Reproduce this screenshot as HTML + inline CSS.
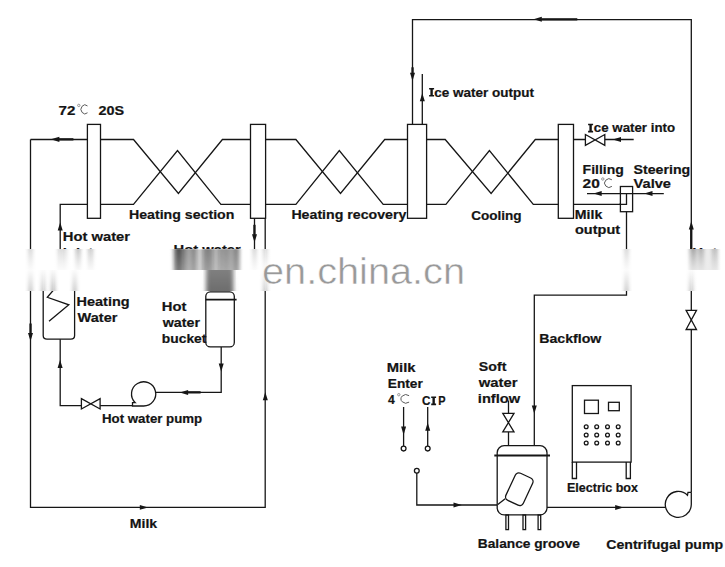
<!DOCTYPE html><html><head><meta charset="utf-8"><style>html,body{margin:0;padding:0;background:#fff;width:725px;height:567px;overflow:hidden}svg{display:block}</style></head><body>
<svg width="725" height="567" viewBox="0 0 725 567">
<defs>
<g id="main">
<g fill="none" stroke="#161616" stroke-width="1.3">
<path d="M412.5,124.4 V19.6 H691.3 V492.3"/>
<path d="M422.3,74 V124.4"/>
<rect x="87.4" y="124.4" width="13.1" height="93.9" fill="#fff"/>
<rect x="250.5" y="124.4" width="15.1" height="93.9" fill="#fff"/>
<rect x="407.5" y="124.4" width="19.1" height="93.9" fill="#fff"/>
<rect x="558.3" y="124.4" width="15.2" height="93.9" fill="#fff"/>
<path d="M30.5,139.5 H87.4 M100.5,139.5 H133.5 L178.4,193.5 L222.4,139.5 H250.5 M265.6,139.5 H295.9 L340.5,193.5 L384.7,139.5 H407.5 M426.6,139.5 H445.2 L491.1,193.5 L535.3,139.5 H558.3 M573.5,139.5 H585.4 M604.8,139.5 H633.7"/>
<path d="M60.2,262 V204.3 H87.4 M100.5,204.3 H133.5 L177.5,150.6 L220.9,204.3 H250.5 M265.6,204.3 H295.9 L339.3,150.6 L383.2,204.3 H407.5 M426.6,204.3 H445.9 L489.4,150.6 L533.3,204.3 H558.3 M573.5,204.3 H620.4"/>
<path d="M30.5,139.5 V507.4 H265.2 V218.3"/>
<path d="M254.5,218.3 V262"/>
<rect x="620.4" y="186.5" width="12.2" height="25.2"/>
<path d="M626.5,193.6 V204.3 H619 M587,193.6 H663.8 M626.5,211.7 V295.2 H534.3 V445.7"/>
<path d="M585.4,134.5 L604.8,145.3 L604.8,134.5 L585.4,145.3 Z" fill="#fff"/>
<path d="M686.1,310.4 L696.5,329.5 L686.1,329.5 L696.5,310.4 Z" fill="#fff"/>
<path d="M43.2,270 V335.5 Q43.2,339.2 47,339.2 H70.8 Q74.6,339.2 74.6,335.5 V270"/>
<path d="M57,286 L47.3,297.3 L68.8,304.8 L49,321.3"/>
<path d="M60.2,339.2 V405.6 H81.4 M100.1,405.6 H132.5"/>
<path d="M81.4,398.6 L100.1,409.0 L100.1,398.6 L81.4,409.0 Z" fill="#fff"/>
<path d="M143.4,406.0 A12.1,12.1 0 1 0 135.2,402.6 H132.5 V406.0 H143.4"/>
<path d="M155.8,392.4 H221.2 V346.9"/>
<rect x="205.8" y="291.8" width="28.5" height="55.1" rx="4.5" fill="#fff"/>
<path d="M205.7,299.6 H236.6" stroke-width="1.8"/>
<rect x="206" y="288" width="27.5" height="3" fill="#4a4a4a" stroke="none"/>
<rect x="572.3" y="385.6" width="58.8" height="76.5"/>
<path d="M572.3,462 V478.5 H576.5 V462 M626.2,462 V478.5 H630.4 V462"/>
<rect x="584.5" y="400.2" width="13.9" height="13.3"/>
<rect x="608.5" y="402.3" width="10.8" height="8.4"/>
<circle cx="586.2" cy="426.7" r="1.9"/>
<circle cx="596.7" cy="426.7" r="1.9"/>
<circle cx="607.5" cy="426.7" r="1.9"/>
<circle cx="618.2" cy="426.7" r="1.9"/>
<circle cx="586.2" cy="435.0" r="1.9"/>
<circle cx="596.7" cy="435.0" r="1.9"/>
<circle cx="607.5" cy="435.0" r="1.9"/>
<circle cx="618.2" cy="435.0" r="1.9"/>
<circle cx="586.2" cy="443.0" r="1.9"/>
<circle cx="596.7" cy="443.0" r="1.9"/>
<circle cx="607.5" cy="443.0" r="1.9"/>
<circle cx="618.2" cy="443.0" r="1.9"/>
<path d="M403.6,407 V446 M427.7,407 V446"/>
<circle cx="403.6" cy="448.6" r="2.4" fill="#fff"/>
<circle cx="427.7" cy="448.6" r="2.4" fill="#fff"/>
<circle cx="416.8" cy="470.7" r="2.4" fill="#fff"/>
<path d="M416.8,473.1 V505.0 H497.2"/>
<path d="M508.5,400.4 V413.3 M508.5,431.8 V445.7"/>
<path d="M502.8,413.3 L514.0,431.8 L502.8,431.8 L514.0,413.3 Z" fill="#fff"/>
<rect x="497.2" y="445.7" width="49.8" height="69.2" rx="7" fill="#fff"/>
<path d="M494.3,455.4 H550" stroke-width="2"/>
<rect x="-9.6" y="-15" width="19.2" height="30" rx="4" transform="translate(519.3,489.2) rotate(25)"/>
<path d="M505.2,498.7 L497.8,504.6"/>
<rect x="505.9" y="515" width="2.6" height="14.6"/>
<rect x="523.0" y="515" width="2.6" height="14.6"/>
<rect x="538.1" y="515" width="2.6" height="14.6"/>
<path d="M547,507.4 H665.4"/>
<path d="M691.3,492.3 V504.6 A13,13 0 1 1 687.5,495.2 L688,492.3 H691.3"/>
</g>
<g fill="#161616" stroke="none">
<polygon points="533.5,19.3 541.8,16.8 541.8,21.8"/><rect x="541.3" y="18.2" width="36.0" height="2.3"/>
<polygon points="412.5,81.1 410.0,72.8 415.0,72.8"/><rect x="411.4" y="67.3" width="2.3" height="6.0"/>
<polygon points="422.3,92.9 419.8,101.2 424.8,101.2"/>
<polygon points="691.3,221.2 688.8,229.5 693.8,229.5"/><rect x="690.1" y="229.0" width="2.3" height="20.0"/>
<polygon points="50.8,139.3 59.4,136.7 59.4,141.9"/><rect x="58.9" y="138.2" width="14.5" height="2.3"/>
<polygon points="30.5,341.3 28.0,333.0 33.0,333.0"/><rect x="29.4" y="323.5" width="2.3" height="10.0"/>
<polygon points="148.1,507.4 139.8,505.0 139.8,509.8"/>
<polygon points="265.3,392.0 262.8,400.3 267.8,400.3"/>
<polygon points="60.2,222.3 57.7,230.6 62.7,230.6"/>
<polygon points="254.5,242.6 252.0,234.3 257.0,234.3"/><rect x="253.3" y="224.8" width="2.3" height="10.0"/>
<polygon points="612.7,139.5 621.0,137.0 621.0,142.0"/>
<polygon points="593.4,193.6 601.7,191.1 601.7,196.1"/>
<polygon points="644.2,193.6 652.5,191.1 652.5,196.1"/>
<polygon points="60.1,359.8 57.6,368.1 62.6,368.1"/>
<polygon points="179.8,392.4 188.1,389.9 188.1,394.9"/><rect x="187.6" y="391.2" width="13.0" height="2.3"/>
<polygon points="221.2,371.8 218.7,363.5 223.7,363.5"/>
<polygon points="534.3,413.8 531.8,405.5 536.8,405.5"/>
<polygon points="403.6,434.9 401.1,426.6 406.1,426.6"/>
<polygon points="427.7,422.5 425.2,430.8 430.2,430.8"/>
<polygon points="461.8,505.0 453.5,502.5 453.5,507.5"/>
<polygon points="623.5,507.4 615.2,504.9 615.2,509.9"/>
</g>
<g font-family="Liberation Sans, sans-serif" font-weight="bold" font-size="12.6" fill="#141414" stroke="#141414" stroke-width="0.2">
<text id="t0" x="58.59" y="114.50" textLength="16.81" lengthAdjust="spacingAndGlyphs">72</text>
<text id="t1" x="98.58" y="114.50" textLength="25.65" lengthAdjust="spacingAndGlyphs">20S</text>
<text id="t2" x="129.00" y="218.50" textLength="105.41" lengthAdjust="spacingAndGlyphs">Heating section</text>
<text id="t3" x="291.40" y="219.30" textLength="115.00" lengthAdjust="spacingAndGlyphs">Heating recovery</text>
<text id="t4" x="471.19" y="219.50" textLength="50.42" lengthAdjust="spacingAndGlyphs">Cooling</text>
<text id="t5" x="574.82" y="219.10" textLength="27.58" lengthAdjust="spacingAndGlyphs">Milk</text>
<text id="t6" x="575.01" y="234.40" textLength="45.19" lengthAdjust="spacingAndGlyphs">output</text>
<text id="t7" x="434.30" y="96.60" textLength="99.70" lengthAdjust="spacingAndGlyphs">ce water output</text>
<text id="t8" x="593.81" y="132.40" textLength="81.29" lengthAdjust="spacingAndGlyphs">ce water into</text>
<text id="t9" x="582.59" y="173.80" textLength="41.21" lengthAdjust="spacingAndGlyphs">Filling</text>
<text id="t10" x="582.58" y="187.80" textLength="17.24" lengthAdjust="spacingAndGlyphs">20</text>
<text id="t11" x="633.60" y="173.80" textLength="56.60" lengthAdjust="spacingAndGlyphs">Steering</text>
<text id="t12" x="633.60" y="187.80" textLength="37.40" lengthAdjust="spacingAndGlyphs">Valve</text>
<text id="t13" x="62.80" y="240.50" textLength="67.20" lengthAdjust="spacingAndGlyphs">Hot water</text>
<text id="t14" x="76.58" y="306.00" textLength="53.03" lengthAdjust="spacingAndGlyphs">Heating</text>
<text id="t15" x="77.60" y="321.70" textLength="39.79" lengthAdjust="spacingAndGlyphs">Water</text>
<text id="t16" x="161.80" y="311.00" textLength="24.60" lengthAdjust="spacingAndGlyphs">Hot</text>
<text id="t17" x="162.80" y="326.80" textLength="37.20" lengthAdjust="spacingAndGlyphs">water</text>
<text id="t18" x="161.82" y="342.50" textLength="44.59" lengthAdjust="spacingAndGlyphs">bucket</text>
<text id="t19" x="102.00" y="422.50" textLength="100.20" lengthAdjust="spacingAndGlyphs">Hot water pump</text>
<text id="t20" x="129.82" y="528.40" textLength="27.38" lengthAdjust="spacingAndGlyphs">Milk</text>
<text id="t21" x="539.19" y="343.20" textLength="62.21" lengthAdjust="spacingAndGlyphs">Backflow</text>
<text id="t22" x="386.79" y="372.30" textLength="28.81" lengthAdjust="spacingAndGlyphs">Milk</text>
<text id="t23" x="387.82" y="387.90" textLength="34.99" lengthAdjust="spacingAndGlyphs">Enter</text>
<text id="t24" x="387.89" y="403.80" textLength="6.76" lengthAdjust="spacingAndGlyphs">4</text>
<text id="t25" x="421.99" y="405.20" textLength="8.47" lengthAdjust="spacingAndGlyphs">C</text>
<text id="t26" x="478.81" y="371.30" textLength="27.58" lengthAdjust="spacingAndGlyphs">Soft</text>
<text id="t27" x="478.81" y="386.90" textLength="38.78" lengthAdjust="spacingAndGlyphs">water</text>
<text id="t28" x="477.82" y="402.80" textLength="42.39" lengthAdjust="spacingAndGlyphs">inflow</text>
<text id="t29" x="567.01" y="491.90" textLength="70.99" lengthAdjust="spacingAndGlyphs">Electric box</text>
<text id="t30" x="477.81" y="547.80" textLength="102.19" lengthAdjust="spacingAndGlyphs">Balance groove</text>
<text id="t31" x="606.20" y="548.90" textLength="117.00" lengthAdjust="spacingAndGlyphs">Centrifugal pump</text>
<text id="t32" x="173.60" y="253.80" textLength="67.20" lengthAdjust="spacingAndGlyphs">Hot water</text>
<text id="t33" x="62.70" y="257.40" textLength="30.60" lengthAdjust="spacingAndGlyphs">inlet</text>
<text id="t34" x="692.20" y="256.90" textLength="68.60" lengthAdjust="spacingAndGlyphs">Hot water</text>
<text id="t35" x="438.14" y="405.20" textLength="7.29" lengthAdjust="spacingAndGlyphs">P</text>
</g>
<path fill="#141414" d="M429.10,87.90 h5.00 v1.6 h-1.30 v5.50 h1.30 v1.6 h-5.00 v-1.6 h1.30 v-5.50 h-1.30 Z"/>
<path fill="#141414" d="M588.10,123.70 h5.00 v1.6 h-1.30 v5.50 h1.30 v1.6 h-5.00 v-1.6 h1.30 v-5.50 h-1.30 Z"/>
<path fill="#141414" d="M431.20,396.50 h4.90 v1.6 h-1.25 v5.50 h1.25 v1.6 h-4.90 v-1.6 h1.25 v-5.50 h-1.25 Z"/>
<circle cx="78.80" cy="105.40" r="1.2" fill="none" stroke="#8a8a8a" stroke-width="0.9"/><path d="M87.50,105.94 A3.96,4.45 0 1 0 87.50,112.76" fill="none" stroke="#5a5a5a" stroke-width="1.0"/>
<circle cx="602.80" cy="179.00" r="1.2" fill="none" stroke="#8a8a8a" stroke-width="0.9"/><path d="M611.90,179.81 A4.44,4.30 0 1 0 611.90,186.39" fill="none" stroke="#5a5a5a" stroke-width="1.0"/>
<circle cx="398.80" cy="394.70" r="1.2" fill="none" stroke="#8a8a8a" stroke-width="0.9"/><path d="M409.10,395.68 A4.99,4.20 0 1 0 409.10,402.12" fill="none" stroke="#5a5a5a" stroke-width="1.0"/>
</g>
<clipPath id="cNo"><path d="M0,0H725V249.0H0Z M0,291.0H725V567H0Z"/></clipPath>
<clipPath id="cUp"><rect x="0" y="249.0" width="725" height="21.0"/></clipPath>
<clipPath id="cLo"><rect x="0" y="270.0" width="725" height="21.0"/></clipPath>
<filter id="tUp" filterUnits="userSpaceOnUse" primitiveUnits="userSpaceOnUse" x="0" y="246.0" width="725" height="27.0"><feOffset in="SourceGraphic" dx="0" dy="0" x="0" y="249.0" width="725" height="1.0" result="row"/><feTile in="row" result="t"/><feGaussianBlur in="t" stdDeviation="2.2 1.0"/></filter>
<filter id="tLo" filterUnits="userSpaceOnUse" primitiveUnits="userSpaceOnUse" x="0" y="267.0" width="725" height="27.0"><feOffset in="SourceGraphic" dx="0" dy="0" x="0" y="290.0" width="725" height="1.0" result="row"/><feTile in="row" result="t"/><feGaussianBlur in="t" stdDeviation="2.2 1.0"/></filter>
<linearGradient id="gUp" x1="0" y1="0" x2="0" y2="1"><stop offset="0" stop-color="#fff" stop-opacity="0.3"/><stop offset="1" stop-color="#fff" stop-opacity="0.5"/></linearGradient>
<linearGradient id="gUp2" x1="0" y1="0" x2="0" y2="1"><stop offset="0" stop-color="#fff" stop-opacity="0.15"/><stop offset="1" stop-color="#fff" stop-opacity="0.85"/></linearGradient>
<linearGradient id="gLo2" x1="0" y1="0" x2="0" y2="1"><stop offset="0" stop-color="#fff" stop-opacity="0.9"/><stop offset="1" stop-color="#fff" stop-opacity="0.1"/></linearGradient>
<filter id="sb" x="-20%" y="-5%" width="140%" height="110%"><feGaussianBlur stdDeviation="1.5 0.6"/></filter>
<linearGradient id="gLo" x1="0" y1="0" x2="0" y2="1"><stop offset="0" stop-color="#fff" stop-opacity="0.3"/><stop offset="1" stop-color="#fff" stop-opacity="0.2"/></linearGradient>
</defs>
<rect width="725" height="567" fill="#fff"/>
<use href="#main" clip-path="url(#cNo)"/>
<g clip-path="url(#cUp)"><use href="#main" filter="url(#tUp)"/><rect x="0" y="249.0" width="725" height="21.0" fill="url(#gUp)"/></g>
<g clip-path="url(#cLo)"><use href="#main" filter="url(#tLo)"/><rect x="0" y="270.0" width="725" height="21.0" fill="url(#gLo)"/></g>
<path d="M0,249H168V270H0Z M246,249H725V270H246Z" fill="url(#gUp2)"/>
<rect x="689" y="249" width="30" height="21" fill="#000" opacity="0.07" filter="url(#sb)"/>
<rect x="174" y="250" width="66" height="20" fill="#000" opacity="0.13" filter="url(#sb)"/>
<path d="M0,270H203V291H0Z M236,270H725V291H236Z" fill="url(#gLo2)"/>
<text id="wm" x="262.00" y="283.5" textLength="203.00" lengthAdjust="spacingAndGlyphs" font-family="Liberation Sans, sans-serif" font-size="37.3" fill="#999" stroke="#fff" stroke-width="0.5">en.china.cn</text>
</svg></body></html>
